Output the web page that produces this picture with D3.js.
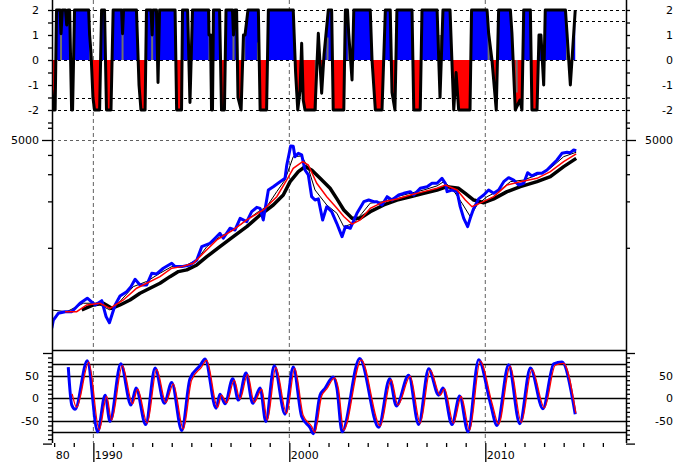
<!DOCTYPE html>
<html><head><meta charset="utf-8">
<script src="https://cdn.jsdelivr.net/npm/d3@7"></script>
<style>
body{margin:0;background:#fff}
svg{display:block}
text{font-family:"DejaVu Sans",sans-serif;font-size:11px;fill:#000}
</style>
</head><body>
<svg id="c" width="677" height="462"></svg>
<script>
// ---------- DATA ----------
// Top panel regime indicator
const topYears = [1987.88,1987.97,1988.05,1988.12,1988.30,1988.35,1988.42,1988.58,1988.64,1988.71,1988.79,1988.89,1988.94,1989.04,1989.76,1989.81,1989.88,1989.98,1990.06,1990.32,1990.42,1990.57,1990.67,1990.90,1991.01,1991.44,1991.49,1991.54,1992.20,1992.33,1992.43,1992.64,1992.71,1992.94,1993.00,1993.05,1993.22,1993.30,1993.38,1994.17,1994.25,1994.50,1994.55,1994.81,1994.93,1995.06,1995.88,1995.90,1995.98,1996.03,1996.08,1996.13,1996.44,1996.54,1996.69,1996.77,1997.10,1997.15,1997.23,1997.31,1997.38,1997.54,1997.66,1997.74,1997.89,1998.42,1998.51,1998.84,1998.93,2000.20,2000.32,2000.43,2000.55,2000.63,2000.71,2000.80,2001.31,2001.48,2001.65,2001.77,2001.99,2002.16,2002.24,2002.78,2002.86,2002.97,2003.03,2003.20,2003.29,2004.13,2004.22,2004.39,2004.73,2004.90,2005.15,2005.24,2005.39,2005.49,2006.26,2006.35,2006.68,2006.77,2007.54,2007.69,2007.84,2008.20,2008.39,2008.51,2008.64,2009.22,2009.30,2010.09,2010.17,2010.34,2010.56,2010.68,2011.28,2011.36,2011.53,2011.77,2011.87,2011.96,2012.30,2012.38,2012.64,2012.74,2012.84,2012.98,2013.06,2014.09,2014.17,2014.34,2014.59];
const topValues = [-1.2,-2,-2,2,2,1.05,2,2,1.4,2,2,-2,-2,2,2,1.0,0.3,-1.5,-2,-2,2,2,-2,-2,2,2,1.05,2,2,-1,-2,-2,2,2,1.0,2,2,-0.9,2,2,-2,-2,2,2,-1.7,2,2,1.0,1.0,-2,-2,2,2,-2,-2,2,2,1.0,2,2,-1.5,-2,1.0,1.0,2,2,-2,-2,2,2,-0.5,-2,-1.2,0.67,-1.6,-2,-2,1.07,-1.33,0.2,2,2,-2,-2,2,2,1.07,-0.8,2,2,0,-2,-2,2,2,-1.3,-2,2,2,-2,-2,2,2,-1.5,2,2,-2,-0.5,-2,-2,2,2,1.07,0,-2,2,2,1.07,-2,-1.6,-2,2,2,-2,-2,1,1,-1,2,2,1.07,-1,2];
const grayYears = [1988.35,1989.85,1991.49,1993.00,1995.93,1997.15,1997.70,1998.40,2001.35,2001.95,2003.03,2007.70,2010.17,2011.60,2014.17];
const grayValues = [1.05,0.5,1.05,1.0,1.0,1.0,1.0,0.7,-2,0.9,1.07,1.0,1.07,-1.3,1.07];
const topLevels = [2,1.55,0,-1.53,-2];
const topTickLabels = [2,1,0,-1,-2];

// Middle panel: price (log) and moving averages
const priceYears = [1987.88,1987.96,1988.21,1988.56,1988.90,1989.32,1989.69,1990.09,1990.43,1990.65,1990.82,1991.11,1991.36,1991.70,1991.92,1992.13,1992.38,1992.72,1992.98,1993.23,1993.57,1994.00,1994.17,1994.51,1994.93,1995.28,1995.53,1995.95,1996.21,1996.46,1996.63,1996.97,1997.23,1997.49,1997.83,1998.08,1998.34,1998.51,1998.67,1998.93,1999.18,1999.53,1999.78,1999.87,2000.07,2000.20,2000.29,2000.46,2000.63,2000.80,2000.97,2001.14,2001.31,2001.48,2001.70,2001.91,2002.16,2002.42,2002.69,2002.86,2003.11,2003.45,2003.80,2004.05,2004.31,2004.47,2004.73,2004.99,2005.24,2005.58,2005.84,2006.17,2006.35,2006.68,2007.03,2007.28,2007.54,2007.79,2007.96,2008.05,2008.30,2008.56,2008.72,2008.90,2009.10,2009.23,2009.41,2009.66,2009.92,2010.17,2010.43,2010.68,2010.94,2011.19,2011.45,2011.70,2011.96,2012.16,2012.38,2012.64,2012.89,2013.15,2013.40,2013.66,2013.91,2014.17,2014.34,2014.51,2014.64];
const priceValues = [301,340,376,385,385,437,471,426,454,358,327,426,487,519,560,625,574,574,684,677,737,794,755,755,774,834,1017,1070,1153,1242,1153,1338,1305,1553,1477,1715,1830,1803,1515,2371,2491,2684,2822,3443,4572,4550,3898,4100,4000,3196,2967,2145,2041,2075,1515,1848,1715,1442,1181,1371,1338,1674,1992,2041,1992,1992,1895,2145,2041,2200,2256,2313,2200,2431,2491,2619,2619,2822,2619,2313,2371,2313,1848,1553,1371,1553,1803,2075,2200,2371,2256,2371,2684,2848,2750,2555,2620,3069,2928,3040,3040,3196,3443,3709,4100,4166,4136,4307,4260];
const redMAYears = [1988.56,1989.15,1989.66,1990.34,1990.85,1991.53,1992.21,1992.72,1993.40,1994.00,1994.51,1995.10,1995.61,1996.30,1997.14,1997.83,1998.67,1999.36,1999.87,2000.20,2000.68,2000.97,2001.40,2001.91,2002.43,2002.78,2003.20,2003.62,2004.13,2004.82,2005.49,2006.17,2006.86,2007.54,2007.96,2008.56,2008.98,2009.32,2009.74,2010.43,2011.11,2011.79,2012.64,2013.32,2014.00,2014.64];
const redMAValues = [385,385,426,437,405,459,547,589,650,737,755,794,921,1124,1305,1515,1759,2145,2752,3276,3617,3443,2619,2145,1803,1595,1425,1515,1803,1992,2075,2200,2313,2431,2555,2371,2041,1848,1948,2145,2555,2684,2822,3115,3617,4058];
const midMAYears = [1987.88,1988.64,1989.49,1990.17,1990.85,1991.36,1992.04,1992.72,1993.40,1994.00,1994.59,1995.28,1995.79,1996.46,1997.14,1997.83,1998.42,1998.85,1999.36,1999.78,2000.20,2000.63,2000.97,2001.31,2001.91,2002.43,2002.78,2003.29,2003.71,2004.13,2004.82,2005.49,2006.17,2006.86,2007.54,2007.88,2008.30,2008.81,2009.23,2009.58,2010.09,2010.77,2011.28,2011.96,2012.64,2013.32,2014.00,2014.64];
const midMAValues = [395,385,437,437,395,449,560,605,684,755,755,834,1017,1181,1305,1515,1715,1848,2313,2752,3898,3938,3276,2371,1895,1674,1371,1442,1674,1948,1992,2145,2256,2371,2521,2684,2431,1948,1595,1895,2145,2371,2684,2750,2967,3276,3898,4166];
const longMAYears = [1989.41,1990.00,1990.51,1990.94,1991.36,1991.87,1992.38,1992.89,1993.40,1993.91,1994.34,1994.77,1995.28,1995.79,1996.46,1997.14,1997.83,1998.51,1999.18,1999.69,2000.04,2000.46,2000.80,2001.14,2001.57,2002.08,2002.43,2002.78,2003.20,2003.62,2004.13,2004.82,2005.49,2006.17,2006.86,2007.54,2008.05,2008.64,2008.98,2009.41,2009.92,2010.43,2011.11,2011.79,2012.64,2013.32,2014.00,2014.64];
const longMAValues = [395,426,437,405,426,459,507,547,589,650,701,719,774,876,1017,1181,1371,1632,1895,2200,2684,3115,3358,3196,2822,2431,2075,1759,1553,1553,1715,1895,2041,2145,2256,2371,2491,2431,2256,2041,1960,2075,2313,2491,2684,2890,3358,3800];
const priceTicks = [6000,5000,4000,3000,2000,1000];
const priceLabels = [5000];

// Bottom panel oscillator
const oscYears = [1988.72,1988.90,1989.07,1989.69,1990.22,1990.60,1990.85,1991.40,1991.92,1992.18,1992.67,1993.15,1993.62,1994.00,1994.51,1994.93,1995.44,1995.70,1996.26,1996.46,1996.72,1997.11,1997.40,1997.79,1998.13,1998.51,1998.80,1999.23,1999.78,2000.20,2000.63,2001.06,2001.22,2001.57,2001.82,2002.24,2002.43,2002.69,2003.59,2004.56,2005.12,2005.46,2006.09,2006.60,2007.11,2007.62,2007.84,2008.30,2008.69,2009.12,2009.66,2010.26,2010.60,2011.19,2011.76,2012.30,2012.94,2013.49,2013.91,2014.59];
const oscValues = [69,-15,-24,83,-74,7,-51,76,-15,23,-58,67,-11,35,-71,43,72,87,-22,9,-12,43,-4,56,-11,23,-51,72,-35,69,-40,-65,-78,7,22,47,22,-74,88,-64,43,-17,51,-58,65,7,23,-58,5,-74,85,-11,-60,74,-56,67,-23,76,80,-35];
const oscSignalYears = [1988.92,1989.15,1989.77,1990.30,1990.68,1990.93,1991.48,1992.00,1992.26,1992.75,1993.23,1993.70,1994.08,1994.59,1995.01,1995.52,1995.78,1996.34,1996.54,1996.80,1997.19,1997.48,1997.87,1998.21,1998.59,1998.88,1999.31,1999.86,2000.28,2000.71,2001.14,2001.30,2001.65,2001.90,2002.32,2002.51,2002.77,2003.67,2004.64,2005.20,2005.54,2006.17,2006.68,2007.19,2007.70,2007.92,2008.38,2008.77,2009.20,2009.74,2010.34,2010.68,2011.27,2011.84,2012.38,2013.02,2013.57,2013.99,2014.62];
const oscSignalValues = [10,-20,80,-70,4,-48,72,-12,20,-55,64,-9,32,-68,40,69,84,-20,7,-10,40,-2,53,-9,20,-48,68,-33,66,-38,-62,-75,5,20,45,20,-70,85,-61,41,-15,49,-55,62,7,21,-55,4,-70,82,-10,-57,71,-53,64,-21,73,77,-33];
const oscLevels = [75,50,0,-50,-75];
const oscTickLabels = [50,0,-50];

// X axis
const yearTicks = [1988,1989,1990,1991,1992,1993,1994,1995,1996,1997,1998,1999,2000,2001,2002,2003,2004,2005,2006,2007,2008,2009,2010,2011,2012,2013,2014,2015,2016];
const majorYears = [1990,2000,2010];
const xLabelYears = [1988,1990,2000,2010];
const xLabelTexts = ["80","1990","2000","2010"];

// ---------- CHART ----------
const L = 52, R = 626, AXB = 443;
const svg = d3.select("#c");
const x = d3.scaleLinear().domain([1987.89, 2017.18]).range([L, R]);
const yTop = d3.scaleLinear().domain([2, -2]).range([10, 110]);
const yMid = d3.scaleLog().domain([5000, 1000]).range([140, 247.8]);
const yOsc = d3.scaleLinear().domain([100, -100]).range([353, 443.6]);

const defs = svg.append("defs");
function clip(id, y0, y1){ defs.append("clipPath").attr("id", id).append("rect").attr("x", L).attr("y", y0).attr("width", R - L).attr("height", y1 - y0); }
clip("cTop", 0, 128); clip("cPos", 0, yTop(0)); clip("cNeg", yTop(0), 128);
clip("cMid", 118, 350); clip("cOsc", 350, AXB);

const topData = d3.zip(topYears, topValues);
const grid = svg.append("g");
// vertical gridlines
grid.selectAll("line.v").data(majorYears).join("line")
  .attr("x1", d => x(d)).attr("x2", d => x(d)).attr("y1", 0).attr("y2", AXB)
  .attr("stroke", "#606060").attr("stroke-dasharray", "4,3").attr("stroke-width", 1);
// top levels
grid.selectAll("line.t").data(topLevels).join("line")
  .attr("x1", L).attr("x2", R).attr("y1", d => Math.round(yTop(d)) + 0.5).attr("y2", d => Math.round(yTop(d)) + 0.5)
  .attr("stroke", "#000").attr("stroke-dasharray", "3,3");

// top fills
const area = d3.area().x(d => x(d[0])).y0(yTop(0)).y1(d => yTop(d[1]));
svg.append("path").datum(topData).attr("d", area).attr("fill", "#0000ff").attr("clip-path", "url(#cPos)");
svg.append("path").datum(topData).attr("d", area).attr("fill", "#ff0000").attr("clip-path", "url(#cNeg)");
svg.append("g").selectAll("rect").data(d3.zip(grayYears, grayValues)).join("rect")
  .attr("x", d => x(d[0]) - 1).attr("width", 2)
  .attr("y", d => Math.min(yTop(0), yTop(d[1]))).attr("height", d => Math.abs(yTop(d[1]) - yTop(0)))
  .attr("fill", "#707070");
svg.append("path").datum(topData)
  .attr("d", d3.line().x(d => x(d[0])).y(d => yTop(d[1])))
  .attr("fill", "none").attr("stroke", "#000").attr("stroke-width", 3).attr("stroke-linejoin", "round")
  .attr("clip-path", "url(#cTop)");

// middle panel
svg.append("line").attr("x1", L).attr("x2", R).attr("y1", yMid(5000) + 0.5).attr("y2", yMid(5000) + 0.5)
  .attr("stroke", "#606060").attr("stroke-dasharray", "3,3");
const mline = d3.line().x(d => x(d[0])).y(d => yMid(d[1]));
const mid = svg.append("g").attr("clip-path", "url(#cMid)");
mid.append("path").datum(d3.zip(longMAYears, longMAValues)).attr("d", mline)
  .attr("fill", "none").attr("stroke", "#000").attr("stroke-width", 3.5).attr("stroke-linejoin", "round");
mid.append("path").datum(d3.zip(midMAYears, midMAValues)).attr("d", mline)
  .attr("fill", "none").attr("stroke", "#000").attr("stroke-width", 1);
mid.append("path").datum(d3.zip(priceYears, priceValues)).attr("d", mline)
  .attr("fill", "none").attr("stroke", "#0000ff").attr("stroke-width", 3).attr("stroke-linejoin", "round");
mid.append("path").datum(d3.zip(redMAYears, redMAValues)).attr("d", mline)
  .attr("fill", "none").attr("stroke", "#ff0000").attr("stroke-width", 1.5);

// oscillator panel
svg.append("line").attr("x1", L).attr("x2", R).attr("y1", 350.5).attr("y2", 350.5).attr("stroke", "#000").attr("stroke-width", 1.5);
svg.append("g").selectAll("line").data(oscLevels).join("line")
  .attr("x1", L).attr("x2", R).attr("y1", d => Math.round(yOsc(d)) + 0.5).attr("y2", d => Math.round(yOsc(d)) + 0.5)
  .attr("stroke", "#000").attr("stroke-width", 1.5);
const oline = d3.line().x(d => x(d[0])).y(d => yOsc(d[1])).curve(d3.curveMonotoneX);
const osc = svg.append("g").attr("clip-path", "url(#cOsc)");
osc.append("path").datum(d3.zip(oscYears, oscValues)).attr("d", oline)
  .attr("fill", "none").attr("stroke", "#0000ff").attr("stroke-width", 3);
osc.append("path").datum(d3.zip(oscSignalYears, oscSignalValues)).attr("d", oline)
  .attr("fill", "none").attr("stroke", "#ff0000").attr("stroke-width", 1.3);

// axes lines
svg.append("line").attr("x1", L + 0.5).attr("x2", L + 0.5).attr("y1", 0).attr("y2", AXB).attr("stroke", "#000").attr("stroke-width", 1.5);
svg.append("line").attr("x1", R + 0.5).attr("x2", R + 0.5).attr("y1", 0).attr("y2", AXB).attr("stroke", "#000").attr("stroke-width", 1.5);

function yAxis(scale, ticks, sizeFn){
  // left
  const gl = svg.append("g").attr("transform", `translate(${L},0)`);
  gl.call(d3.axisLeft(scale).tickValues(ticks).tickFormat("").tickSizeOuter(0));
  gl.select(".domain").remove();
  gl.selectAll(".tick line").attr("x2", d => -sizeFn(d)).attr("stroke-width", 1.3);
  const gr = svg.append("g").attr("transform", `translate(${R},0)`);
  gr.call(d3.axisRight(scale).tickValues(ticks).tickFormat("").tickSizeOuter(0));
  gr.select(".domain").remove();
  gr.selectAll(".tick line").attr("x2", d => sizeFn(d)).attr("stroke-width", 1.3);
}
const topTicks = [2,1.5,1,0.5,0,-0.5,-1,-1.5,-2,-2.5];
yAxis(yTop, topTicks, () => 4);
yAxis(yMid, priceTicks, d => d === 5000 ? 10 : 4);
const oscTicks = [100,90,80,70,60,50,40,30,20,10,0,-10,-20,-30,-40,-50,-60,-70,-80,-90,-100];
yAxis(yOsc, oscTicks, d => Math.abs(d) === 100 ? 9 : 4);

function labels(scale, vals, fmt){
  svg.append("g").selectAll("text").data(vals).join("text")
    .attr("x", 39).attr("y", d => scale(d) + 4).attr("text-anchor", "end").text(fmt);
  svg.append("g").selectAll("text").data(vals).join("text")
    .attr("x", 673).attr("y", d => scale(d) + 4).attr("text-anchor", "end").text(fmt);
}
labels(yTop, topTickLabels, d => d);
labels(yMid, priceLabels, d => d);
labels(yOsc, oscTickLabels, d => d);

// x axis
const gx = svg.append("g").attr("transform", `translate(0,${AXB})`);
gx.call(d3.axisBottom(x).tickValues(yearTicks).tickFormat("").tickSizeOuter(0));
gx.select(".domain").remove();
gx.selectAll(".tick line").attr("y2", d => majorYears.includes(d) ? 19 : 4).attr("stroke-width", 1.3);
svg.append("g").selectAll("text").data(d3.zip(xLabelYears, xLabelTexts)).join("text")
  .attr("x", d => x(d[0]) + 1.5).attr("y", 459).text(d => d[1]);
</script>
</body></html>
